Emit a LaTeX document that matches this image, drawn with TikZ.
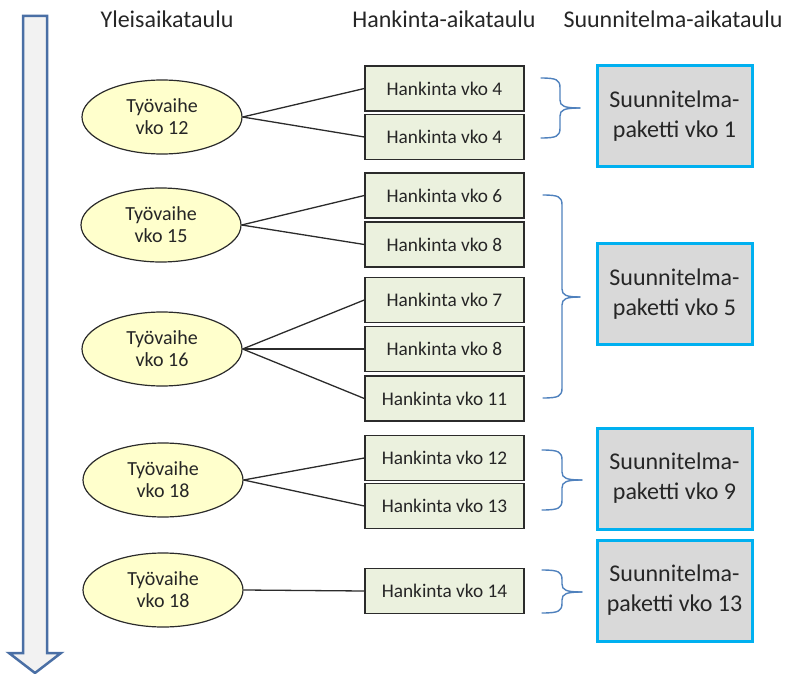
\documentclass[tikz,border=0pt]{standalone}
\usepackage{fontspec}
\setmainfont{Carlito}
\usetikzlibrary{shapes.geometric}
\definecolor{arrowfill}{HTML}{F2F2F2}
\definecolor{arrowline}{HTML}{4A6FA5}
\definecolor{ellfill}{HTML}{FFFFCC}
\definecolor{boxfill}{HTML}{EBF1DE}
\definecolor{pakfill}{HTML}{D9D9D9}
\definecolor{pakline}{HTML}{00B0F0}
\definecolor{bracecol}{HTML}{4F81BD}
\definecolor{darkline}{HTML}{2B2B2B}
\newcommand\mybrace[6]{%
  \draw[bracestyle] (#1,#4) .. controls ({#2-3},#4) and (#2,{#4+2}) .. (#2,{#4+10})
    -- (#2,{#5-8}) .. controls (#2,{#5-2}) and ({#2+4},#5) .. (#3,#5);
  \draw[bracestyle] (#3,#5) .. controls ({#2+4},#5) and (#2,{#5+2}) .. (#2,{#5+8})
    -- (#2,{#6-10}) .. controls (#2,{#6-2}) and ({#2-3},#6) .. (#1,#6);
}
\tikzset{
  header/.style={font=\fontsize{24}{28}\selectfont, text=black!85},
  phase/.style={ellipse, draw=darkline, line width=1.2pt, fill=ellfill,
    minimum width=160pt, minimum height=74pt, inner sep=0pt, align=center,
    font=\fontsize{20}{22}\selectfont, text=black!85},
  hbox/.style={rectangle, draw=darkline, line width=1.4pt, fill=boxfill,
    minimum width=159pt, minimum height=45pt, inner sep=0pt,
    font=\fontsize{19.3}{20}\selectfont, text=black!85},
  pak/.style={rectangle, draw=pakline, line width=3pt, fill=pakfill,
    minimum width=155pt, minimum height=101pt, inner sep=0pt, align=center,
    font=\fontsize{24}{30}\selectfont, text=black!85},
  link/.style={draw=darkline, line width=1.3pt},
  bracestyle/.style={draw=bracecol, line width=1.4pt, line cap=round},
}
\begin{document}
\begin{tikzpicture}[x=1pt,y=-1pt]
\useasboundingbox (0,0) rectangle (787,674);
% time arrow
\draw[draw=arrowline, fill=arrowfill, line width=2.5pt, line join=miter]
  (23,16) -- (47,16) -- (47,653) -- (61,653) -- (35,673) -- (9,653) -- (23,653) -- cycle;
% headers
\node[header] (h1) at (167,19) {Yleisaikataulu};
\node[header] (h2) at (444,19) {Hankinta-aikataulu};
\node[header] (h3) at (673,19) {Suunnitelma-aikataulu};
% phases
\node[phase] (e1) at (162,117) {Työvaihe\\vko 12};
\node[phase] (e2) at (161,225) {Työvaihe\\vko 15};
\node[phase] (e3) at (162,349) {Työvaihe\\vko 16};
\node[phase] (e4) at (163,480) {Työvaihe\\vko 18};
\node[phase] (e5) at (163,590) {Työvaihe\\vko 18};
% procurement boxes
\node[hbox] (b1) at (444.5,88.5) {Hankinta vko 4};
\node[hbox] (b2) at (444.5,137) {Hankinta vko 4};
\node[hbox] (b3) at (444.5,195.5) {Hankinta vko 6};
\node[hbox] (b4) at (444.5,244.5) {Hankinta vko 8};
\node[hbox] (b5) at (444.5,300) {Hankinta vko 7};
\node[hbox] (b6) at (444.5,349) {Hankinta vko 8};
\node[hbox] (b7) at (444.5,398.5) {Hankinta vko 11};
\node[hbox] (b8) at (444.5,458) {Hankinta vko 12};
\node[hbox] (b9) at (444.5,506) {Hankinta vko 13};
\node[hbox] (b10) at (444.5,591) {Hankinta vko 14};
% links
\draw[link] (e1.east) -- (b1.west);
\draw[link] (e1.east) -- (b2.west);
\draw[link] (e2.east) -- (b3.west);
\draw[link] (e2.east) -- (b4.west);
\draw[link] (e3.east) -- (b5.west);
\draw[link] (e3.east) -- (b6.west);
\draw[link] (e3.east) -- (b7.west);
\draw[link] (e4.east) -- (b8.west);
\draw[link] (e4.east) -- (b9.west);
\draw[link] (e5.east) -- (b10.west);
% braces
\mybrace{541}{560}{580}{78}{108}{138}
\mybrace{543}{562}{580}{195}{297}{398}
\mybrace{542}{562}{582}{450}{480}{510}
\mybrace{542}{562}{582}{570}{592}{613}
% plan packages
\node[pak] (p1) at (674.5,116) {Suunnitelma-\\paketti vko 1};
\node[pak] (p2) at (674.5,294) {Suunnitelma-\\paketti vko 5};
\node[pak] (p3) at (674.5,478.5) {Suunnitelma-\\paketti vko 9};
\node[pak] (p4) at (674.5,590.5) {Suunnitelma-\\paketti vko 13};
\end{tikzpicture}
\end{document}
